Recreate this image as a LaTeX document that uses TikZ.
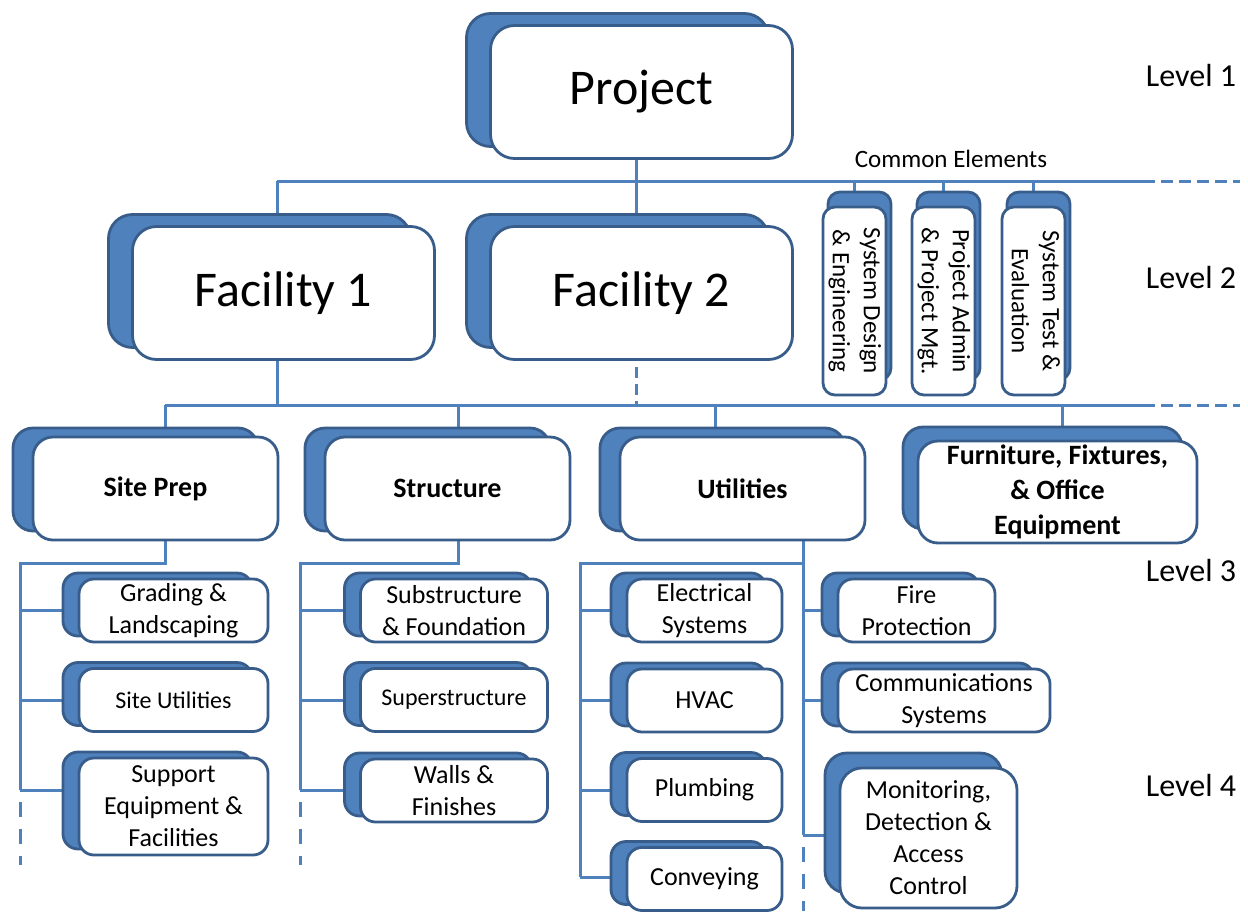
\documentclass[tikz,border=0pt]{standalone}
\usepackage{fontspec}
\setmainfont{Carlito}
\usetikzlibrary{shadows,backgrounds}

\definecolor{wbs-blue}{RGB}{79, 129, 189}
\definecolor{wbs-edge}{RGB}{56, 93, 138}

\newcommand{\sidetext}[1]{\rotatebox[origin=c]{-90}{\begin{tabular}{@{}c@{}}#1\end{tabular}}}

\begin{document}
\begin{tikzpicture}[
        x=1pt, y=-1pt,
        every node/.style={align=center, inner sep=0pt},
        shade/.style 2 args={copy shadow={shadow xshift=#1, shadow yshift=#2,
            fill=wbs-blue, draw=wbs-edge, line width=2.8pt}},
        box/.style={shape=rectangle, draw=wbs-edge, fill=white, line width=2.8pt},
        bigbox/.style={box, rounded corners=24pt, minimum width=302pt, minimum height=133pt,
            font=\fontsize{50}{60}\selectfont, shade={-24pt}{12pt}},
        sidebox/.style={box, rounded corners=12pt, minimum width=63pt, minimum height=188pt,
            font=\fontsize{25}{31}\selectfont, shade={5pt}{15pt}},
        sec/.style={box, rounded corners=20pt, minimum width=245pt, minimum height=103pt,
            font=\fontsize{28}{35}\selectfont\bfseries},
        secbox/.style={sec, shade={-20pt}{9pt}},
        item/.style={box, rounded corners=15pt, minimum height=63pt,
            font=\fontsize{26}{32}\selectfont},
        itembox/.style={item, shade={-16pt}{6pt}},
        levelname/.style={font=\fontsize{32}{38}\selectfont},
        bus/.style={draw=wbs-blue, line width=3pt},
        busend/.style={bus, dash pattern=on 12pt off 6pt, dash phase=12pt},
        spineend/.style={bus, dash pattern=on 15pt off 12pt, dash phase=15pt},
    ]
    \useasboundingbox (0,0) rectangle (1248,911);

    \node[bigbox] (project) at (641.5,92) {Project};
    \node[bigbox] (fac1) at (283.5,293) {Facility 1};
    \node[bigbox] (fac2) at (641.5,293) {Facility 2};

    \node[font=\fontsize{25}{30}\selectfont] (common) at (951,159) {Common Elements};
    \node[sidebox] (sde) at (854.5,301) {\sidetext{System Design\\\& Engineering}};
    \node[sidebox] (pam) at (943.5,301) {\sidetext{Project Admin\\\& Project Mgt.}};
    \node[sidebox] (ste) at (1033.5,301) {\sidetext{System Test \&\\Evaluation}};

    \node[secbox] (siteprep) at (155.5,488.5) {Site Prep};
    \node[secbox] (structure) at (447.5,488.5) {Structure};
    \node[secbox] (utilities) at (742.5,488.5) {Utilities};
    \node[sec, shade={-15pt}{14pt}, minimum width=279pt, minimum height=102pt] (furniture)
        at (1057.5,492) {Furniture, Fixtures,\\\& Office\\Equipment};

    \node[itembox, minimum width=189pt] (grading) at (173.5,610.5) {Grading \&\\Landscaping};
    \node[itembox, minimum width=189pt, font=\fontsize{24}{30}\selectfont] (siteutil) at (173.5,700) {Site Utilities};
    \node[itembox, minimum width=189pt, minimum height=97pt] (support) at (173.5,806.5) {Support\\Equipment \&\\Facilities};

    \node[itembox, minimum width=187pt] (substructure) at (454,610.5) {Substructure\\\& Foundation};
    \node[itembox, minimum width=187pt, font=\fontsize{24}{30}\selectfont] (superstructure) at (454,700) {Superstructure};
    \node[itembox, minimum width=187pt] (walls) at (454,790.5) {Walls \&\\Finishes};

    \node[itembox, minimum width=155pt] (electrical) at (704.5,610.5) {Electrical\\Systems};
    \node[itembox, minimum width=155pt] (hvac) at (704.5,700.5) {HVAC};
    \node[itembox, minimum width=155pt] (plumbing) at (704.5,790) {Plumbing};
    \node[itembox, minimum width=155pt] (conveying) at (704.5,879) {Conveying};

    \node[itembox, minimum width=157pt] (fire) at (916.5,610.5) {Fire\\Protection};
    \node[itembox, minimum width=212pt] (comms) at (944,700.5) {Communications\\Systems};
    \node[item, shade={-15pt}{15pt}, rounded corners=22pt, minimum width=177pt, minimum height=140pt]
        (monitoring) at (928.5,838) {Monitoring,\\Detection \&\\Access\\Control};

    \node[levelname] (lvl1) at (1191,75) {Level 1};
    \node[levelname] (lvl2) at (1191,277) {Level 2};
    \node[levelname] (lvl3) at (1191,570) {Level 3};
    \node[levelname] (lvl4) at (1191,785) {Level 4};

    \coordinate (busA) at (636,181);
    \coordinate (busA-w) at (277,181);
    \coordinate (busA-e) at (1155,181);
    \coordinate (busA-x) at (1240,181);
    \coordinate (busB) at (277,405);
    \coordinate (busB-w) at (165,405);
    \coordinate (busB-e) at (1155,405);
    \coordinate (busB-x) at (1240,405);
    \coordinate (sp-knee) at (165,563);
    \coordinate (sp-spine) at (20,563);
    \coordinate (sp-end) at (20,790);
    \coordinate (sp-tail) at (20,865);
    \coordinate (st-knee) at (458,563);
    \coordinate (st-spine) at (300,563);
    \coordinate (st-end) at (300,790);
    \coordinate (st-tail) at (300,865);
    \coordinate (ut-tap) at (715,405);
    \coordinate (ut-knee) at (803,563);
    \coordinate (ut-spine) at (580,563);
    \coordinate (ut-end) at (580,877);
    \coordinate (ut-mid) at (803,835);
    \coordinate (ut-tail) at (803,911);
    \coordinate (ff-tap) at (1062,405);

    \begin{pgfonlayer}{background}
        \draw[bus] (busA-w) -- (busA-e);
        \draw[busend] (busA-e) -- (busA-x);
        \draw[bus] (project.center -| busA) -- (fac2.center -| busA);
        \draw[bus] (busA-w) -- (busB);
        \draw[bus] (sde |- busA) -- (sde);
        \draw[bus] (pam |- busA) -- (pam);
        \draw[bus] (ste |- busA) -- (ste);

        \draw[bus] (busB-w) -- (busB-e);
        \draw[busend] (busB-e) -- (busB-x);
        \draw[bus, dash pattern=on 11pt off 6pt, dash phase=11pt] (fac2.south -| busA) -- (busA |- busB);

        \draw[bus] (busB-w) -- (sp-knee) -- (sp-spine) -- (sp-end);
        \draw[spineend] (sp-end) -- (sp-tail);
        \draw[bus] (sp-spine |- grading) -- (grading);
        \draw[bus] (sp-spine |- siteutil) -- (siteutil);
        \draw[bus] (sp-end) -- (sp-end -| support);

        \draw[bus] (st-knee |- busB) -- (st-knee) -- (st-spine) -- (st-end);
        \draw[spineend] (st-end) -- (st-tail);
        \draw[bus] (st-spine |- substructure) -- (substructure);
        \draw[bus] (st-spine |- superstructure) -- (superstructure);
        \draw[bus] (st-end) -- (st-end -| walls);

        \draw[bus] (ut-tap) -- (ut-tap |- utilities);
        \draw[bus] (ut-knee |- utilities) -- (ut-mid);
        \draw[spineend] (ut-mid) -- (ut-tail);
        \draw[bus] (ut-knee) -- (ut-spine) -- (ut-end);
        \draw[bus] (ut-spine |- electrical) -- (electrical);
        \draw[bus] (ut-spine |- hvac) -- (hvac);
        \draw[bus] (ut-spine |- plumbing) -- (plumbing);
        \draw[bus] (ut-end) -- (ut-end -| conveying);
        \draw[bus] (ut-knee |- fire) -- (fire);
        \draw[bus] (ut-knee |- comms) -- (comms);
        \draw[bus] (ut-mid) -- (ut-mid -| monitoring);

        \draw[bus] (ff-tap) -- (ff-tap |- furniture);
    \end{pgfonlayer}
\end{tikzpicture}
\end{document}
